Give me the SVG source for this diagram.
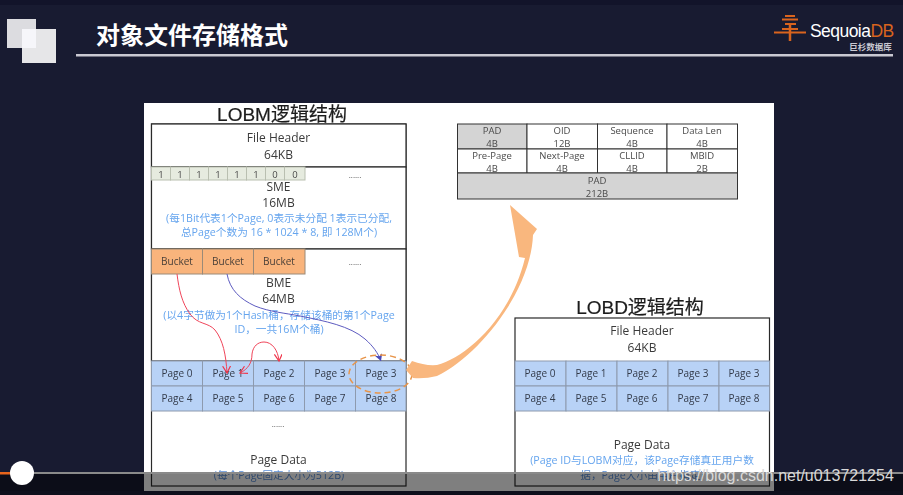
<svg xmlns="http://www.w3.org/2000/svg" width="903" height="495" viewBox="0 0 903 495">
<style>
text{font-family:"Liberation Sans","Noto Sans CJK SC",sans-serif;text-anchor:middle;fill:#404040}
.c{font-family:"Open Sans","Noto Sans CJK SC",sans-serif;font-size:12px;fill:#3a3a3a}
.p{font-family:"Open Sans","Noto Sans CJK SC",sans-serif;font-size:10px;fill:#333b4a}
.t{font-family:"Open Sans","Noto Sans CJK SC",sans-serif;font-size:9.5px;fill:#4a4a4a}
.n{font-family:"Open Sans","Noto Sans CJK SC",sans-serif;font-size:10.700px;fill:#66a5ee}
.h{font-size:19px;fill:#1c1c1c;stroke:#1c1c1c;stroke-width:.2}
.box{fill:#fff;stroke:#2a2a2a;stroke-width:1.2}
.pg{fill:#b8d2f6;stroke:#8d9aae;stroke-width:1}
.bk{fill:#f9b47c;stroke:#9a8a78;stroke-width:1}
.bit{fill:#e6ebdf;stroke:#b9bfb0;stroke-width:1}
.cell{fill:#fff;stroke:#333;stroke-width:1}
.grey{fill:#d4d4d4;stroke:#333;stroke-width:1}
.red{fill:none;stroke:#f0455a;stroke-width:1}
.blue{fill:none;stroke:#5d5bc0;stroke-width:1}
</style>
<defs>
<filter id="soft" x="-2%" y="-2%" width="104%" height="104%"><feGaussianBlur stdDeviation="0.35"/></filter>
<marker id="ar" markerWidth="9" markerHeight="9" refX="7" refY="4" orient="auto-start-reverse" markerUnits="userSpaceOnUse"><path d="M0 0L7 4L0 8" fill="none" stroke="#f0354a" stroke-width="1.200"/></marker>
<marker id="ab" markerWidth="9" markerHeight="9" refX="7" refY="4" orient="auto" markerUnits="userSpaceOnUse"><path d="M0 0L7 4L0 8L2 4Z" fill="#4a48b8"/></marker>
</defs>
<rect width="903" height="495" fill="#181b31"/>
<rect width="903" height="5" fill="#12142a"/>

<g id="header">
<rect x="7" y="19" width="29" height="29" fill="#dcdce0"/>
<rect x="22" y="29" width="34" height="34" fill="#e6e6e8"/>
<rect x="22" y="29" width="14" height="19" fill="#f6f6fa"/>
<text x="192" y="43.500" style="font-family:'Noto Sans CJK SC',sans-serif;font-size:24px;font-weight:700;fill:#fff">对象文件存储格式</text>
<rect x="76" y="54" width="817" height="2.500" fill="#c9c9d2"/>
</g>
<g id="logo">
<path d="M785 16H795M782 19.500H798M785 24H796M782 29H798M774 32.500H806" stroke="#d9641e" stroke-width="1.800" fill="none"/>
<path d="M790 24V41" stroke="#d9641e" stroke-width="2.500"/>
<text x="810" y="37" style="font-size:17.500px;fill:#fff;text-anchor:start;letter-spacing:-.55px">Sequoia<tspan fill="#d9641e">DB</tspan></text>
<text x="870.500" y="50" style="font-family:'Noto Sans CJK SC',sans-serif;font-size:8.500px;font-weight:700;fill:#c9c9d2">巨杉数据库</text>
</g>

<rect id="slide" x="144" y="103" width="630" height="388" fill="#fff"/>

<g filter="url(#soft)">
<g id="lobm">
<text class="h" x="282" y="121">LOBM逻辑结构</text>
<rect class="box" x="151.500" y="124" width="254.500" height="362"/>
<g id="lobm-header"><rect class="box" x="151.500" y="124" width="254.500" height="43"/>
<text class="c" x="278.500" y="142">File Header</text><text class="c" x="278.500" y="159">64KB</text></g>
<g id="sme"><rect class="box" x="151.500" y="167" width="254.500" height="82"/>
<g id="bits">
<rect class="bit" x="151.500" y="167" width="19" height="13"/><rect class="bit" x="170.500" y="167" width="19" height="13"/><rect class="bit" x="189.500" y="167" width="19" height="13"/><rect class="bit" x="208.500" y="167" width="19" height="13"/><rect class="bit" x="227.500" y="167" width="19" height="13"/><rect class="bit" x="246.500" y="167" width="19" height="13"/><rect class="bit" x="265.500" y="167" width="19" height="13"/><rect class="bit" x="284.500" y="167" width="20.500" height="13"/>
<text class="t" x="161" y="177.500">1</text><text class="t" x="180" y="177.500">1</text><text class="t" x="199" y="177.500">1</text><text class="t" x="218" y="177.500">1</text><text class="t" x="237" y="177.500">1</text><text class="t" x="256" y="177.500">1</text><text class="t" x="275" y="177.500">0</text><text class="t" x="295" y="177.500">0</text>
</g>
<text class="t" x="355" y="178" style="font-size:8px">......</text>
<text class="c" x="278.500" y="191">SME</text><text class="c" x="278.500" y="207">16MB</text>
<text class="n" x="279" y="222">(每1Bit代表1个Page, 0表示未分配 1表示已分配,</text>
<text class="n" x="279" y="236">总Page个数为 16 * 1024 * 8, 即 128M个)</text></g>
<g id="bme"><rect class="box" x="151.500" y="249" width="254.500" height="112"/>
<rect class="bk" x="151.500" y="249" width="51" height="25"/><rect class="bk" x="202.500" y="249" width="51" height="25"/><rect class="bk" x="253.500" y="249" width="51.500" height="25"/>
<text class="p" x="177" y="265" style="fill:#4a4038">Bucket</text><text class="p" x="228" y="265" style="fill:#4a4038">Bucket</text><text class="p" x="279" y="265" style="fill:#4a4038">Bucket</text>
<text class="t" x="355" y="265" style="font-size:8px">......</text>
<text class="c" x="278.500" y="287">BME</text><text class="c" x="278.500" y="303">64MB</text>
<text class="n" x="279" y="319">(以4字节做为1个Hash桶，存储该桶的第1个Page</text>
<text class="n" x="279" y="333">ID，一共16M个桶)</text></g>
<g id="lobm-pages">
<rect class="pg" x="151.500" y="361" width="51" height="25"/><rect class="pg" x="202.500" y="361" width="51" height="25"/><rect class="pg" x="253.500" y="361" width="51" height="25"/><rect class="pg" x="304.500" y="361" width="51" height="25"/><rect class="pg" x="355.500" y="361" width="50.500" height="25"/>
<rect class="pg" x="151.500" y="386" width="51" height="25"/><rect class="pg" x="202.500" y="386" width="51" height="25"/><rect class="pg" x="253.500" y="386" width="51" height="25"/><rect class="pg" x="304.500" y="386" width="51" height="25"/><rect class="pg" x="355.500" y="386" width="50.500" height="25"/>
<text class="p" x="177" y="377">Page 0</text><text class="p" x="228" y="377">Page 1</text><text class="p" x="279" y="377">Page 2</text><text class="p" x="330" y="377">Page 3</text><text class="p" x="381" y="377">Page 3</text>
<text class="p" x="177" y="402">Page 4</text><text class="p" x="228" y="402">Page 5</text><text class="p" x="279" y="402">Page 6</text><text class="p" x="330" y="402">Page 7</text><text class="p" x="381" y="402">Page 8</text></g>
<g id="lobm-data">
<text class="t" x="278" y="427" style="font-size:8px">......</text>
<text class="c" x="278.500" y="464">Page Data</text>
<text class="n" x="279" y="479" style="fill:#5b8fd8">(每个Page固定大小为512B)</text></g>
</g>

<g id="object-meta">
<rect class="grey" x="457.500" y="124" width="69.500" height="25"/><rect class="cell" x="527" y="124" width="70.500" height="25"/><rect class="cell" x="597.500" y="124" width="69.500" height="25"/><rect class="cell" x="667" y="124" width="70.500" height="25"/>
<rect class="cell" x="457.500" y="149" width="69.500" height="24"/><rect class="cell" x="527" y="149" width="70.500" height="24"/><rect class="cell" x="597.500" y="149" width="69.500" height="24"/><rect class="cell" x="667" y="149" width="70.500" height="24"/>
<rect class="grey" x="457.500" y="173" width="280" height="26"/>
<text class="t" x="492" y="133.500">PAD</text><text class="t" x="562" y="133.500">OID</text><text class="t" x="632" y="133.500">Sequence</text><text class="t" x="702" y="133.500">Data Len</text>
<text class="t" x="492" y="147">4B</text><text class="t" x="562" y="147">12B</text><text class="t" x="632" y="147">4B</text><text class="t" x="702" y="147">4B</text>
<text class="t" x="492" y="158.500">Pre-Page</text><text class="t" x="562" y="158.500">Next-Page</text><text class="t" x="632" y="158.500">CLLID</text><text class="t" x="702" y="158.500">MBID</text>
<text class="t" x="492" y="171.500">4B</text><text class="t" x="562" y="171.500">4B</text><text class="t" x="632" y="171.500">4B</text><text class="t" x="702" y="171.500">2B</text>
<text class="t" x="597" y="183.500">PAD</text><text class="t" x="597" y="197">212B</text>
</g>

<g id="lobd">
<text class="h" x="640" y="314">LOBD逻辑结构</text>
<rect class="box" x="515" y="318" width="254.500" height="168"/>
<text class="c" x="642" y="335">File Header</text><text class="c" x="642" y="352">64KB</text>
<rect class="pg" x="515" y="361" width="51" height="25"/><rect class="pg" x="566" y="361" width="51" height="25"/><rect class="pg" x="617" y="361" width="51" height="25"/><rect class="pg" x="668" y="361" width="51" height="25"/><rect class="pg" x="719" y="361" width="50.500" height="25"/>
<rect class="pg" x="515" y="386" width="51" height="25"/><rect class="pg" x="566" y="386" width="51" height="25"/><rect class="pg" x="617" y="386" width="51" height="25"/><rect class="pg" x="668" y="386" width="51" height="25"/><rect class="pg" x="719" y="386" width="50.500" height="25"/>
<text class="p" x="540" y="377">Page 0</text><text class="p" x="591" y="377">Page 1</text><text class="p" x="642" y="377">Page 2</text><text class="p" x="693" y="377">Page 3</text><text class="p" x="744" y="377">Page 3</text>
<text class="p" x="540" y="402">Page 4</text><text class="p" x="591" y="402">Page 5</text><text class="p" x="642" y="402">Page 6</text><text class="p" x="693" y="402">Page 7</text><text class="p" x="744" y="402">Page 8</text>
<text class="c" x="642" y="449">Page Data</text>
<text class="n" x="642" y="464">(Page ID与LOBM对应，该Page存储真正用户数</text>
<text class="n" x="642" y="479" style="fill:#5b8fd8">据，Page大小由用户指定)</text>
</g>

<g id="connectors">
<path class="red" marker-end="url(#ar)" d="M177 274C179 290 182 303 190 314C198 325 208 322 215 330C223 340 226 355 227 373"/>
<path class="red" marker-start="url(#ar)" marker-end="url(#ar)" d="M240 373C248 369 252 363 252 354C253 346 258 342 264 342C272 342 278 350 279 361"/>
<path class="blue" marker-end="url(#ab)" d="M227 274C230 290 240 299 255 306C270 312 285 313 300 316C325 321 350 326 365 339C373 346 378 353 381 361"/>
<ellipse cx="380.500" cy="374" rx="31.500" ry="19" fill="none" stroke="#e8954a" stroke-width="1.500" stroke-dasharray="6 4"/>
<path id="big-arrow" d="M406 370L412 361Q425 366 437 365C465 358 510 320 525 258L519 257L510 205L537 229L533 235C531 290 480 355 437 376Q425 379 413 378Z" fill="#f9b77e"/>
</g>
</g>

<g id="player">
<rect x="0" y="473" width="903" height="18" fill="#000" fill-opacity=".5"/>
<rect x="0" y="491" width="903" height="4" fill="#0e0f1c"/>
<rect x="0" y="472" width="903" height="2" fill="#8a8a8a"/>
<rect x="0" y="472" width="12" height="2.500" fill="#e8651c"/>
<circle cx="22" cy="473" r="12" fill="#fff"/>
<text x="775.500" y="481" style="font-size:16px;fill:#d8d8d8">https://blog.csdn.net/u013721254</text>
</g>
</svg>
